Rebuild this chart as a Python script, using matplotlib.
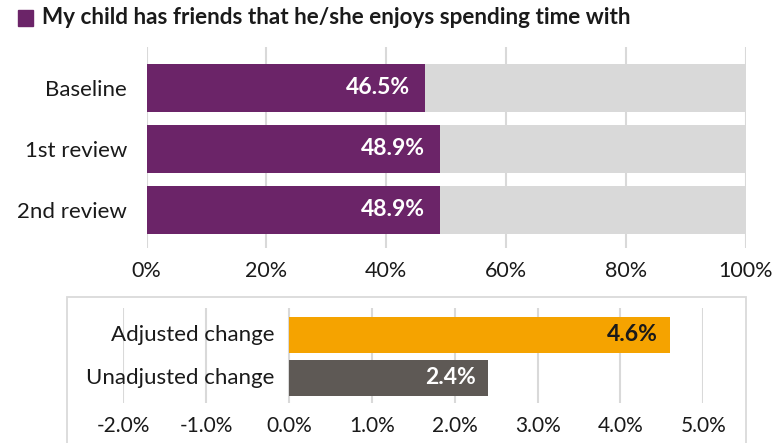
import matplotlib.pyplot as plt
from matplotlib.patches import Rectangle
from matplotlib.ticker import FuncFormatter

plt.rcParams.update({
    "font.family": ["Lato", "DejaVu Sans"],
    "font.size": 12,
})

# Data
title = "My child has friends that he/she enjoys spending time with"
stages = ["Baseline", "1st review", "2nd review"]
agree_pct = [46.5, 48.9, 48.9]
change_labels = ["Adjusted change", "Unadjusted change"]
change_pct = [4.6, 2.4]

PURPLE = "#6B2468"
LIGHT = "#D9D9D9"
ORANGE = "#F5A300"
DARKGREY = "#5E5955"
GRID = "#D9D9D9"
TEXT = "#1A1A1A"

fig = plt.figure(figsize=(7.84, 4.43), dpi=100)

# Title with square marker
fig.patches.append(Rectangle((18 / 784, 1 - 25.5 / 443), 15 / 784, 15.5 / 443,
                             transform=fig.transFigure, color=PURPLE))
fig.text(42 / 784, 1 - 18 / 443, title, fontsize=16.2, fontweight="bold",
         color=TEXT, va="center", ha="left")

# --- Top panel: share agreeing at each review ---
ax1 = fig.add_axes([146.5 / 784, 0.4395, 599.2 / 784, 0.455])
ypos = range(len(stages))
ax1.barh(ypos, [100] * len(stages), height=0.79, color=LIGHT, zorder=2)
ax1.barh(ypos, agree_pct, height=0.79, color=PURPLE, zorder=3)
for y, v in zip(ypos, agree_pct):
    ax1.annotate(f"{v:.1f}%", (v, y), xytext=(-15, 0), textcoords="offset pixels",
                 ha="right", va="center", color="white", fontweight="bold",
                 fontsize=16.5, zorder=4)
ax1.set_xlim(0, 100)
ax1.set_ylim(2.63, -0.67)
ax1.set_xticks(range(0, 101, 20))
ax1.xaxis.set_major_formatter(FuncFormatter(lambda x, _: f"{x:.0f}%"))
ax1.set_yticks(list(ypos))
ax1.set_yticklabels(stages)
ax1.tick_params(axis="both", length=0, colors=TEXT)
ax1.tick_params(axis="y", pad=14, labelsize=16)
ax1.tick_params(axis="x", pad=9.5, labelsize=15.5)
ax1.grid(axis="x", color=GRID, linewidth=1.5, zorder=1)
for s in ax1.spines.values():
    s.set_visible(False)

# --- Bottom panel: change since baseline ---
fig.patches.append(Rectangle((67 / 784, -0.05), (746 - 67) / 784, 1.05 - 296.7 / 443,
                             transform=fig.transFigure, fill=False,
                             edgecolor="#DADADA", linewidth=1.3))
ax2 = fig.add_axes([123.3 / 784, 0.0896, 580 / 784, 0.2144])
cpos = range(len(change_labels))
colors = [ORANGE, DARKGREY]
text_colors = [TEXT, "white"]
ax2.barh(cpos, change_pct, height=0.835, color=colors, zorder=3)
for y, v, tc, lab in zip(cpos, change_pct, text_colors, change_labels):
    ax2.annotate(f"{v:.1f}%", (v, y), xytext=(-12, 0), textcoords="offset pixels",
                 ha="right", va="center", color=tc, fontweight="bold",
                 fontsize=16.5, zorder=4)
    ax2.annotate(lab, (0, y), xytext=(-15, 0), textcoords="offset pixels",
                 ha="right", va="center", color=TEXT, fontsize=16, zorder=4)
ax2.set_xlim(-2, 5)
ax2.set_ylim(1.59, -0.61)
ax2.set_xticks(range(-2, 6))
ax2.xaxis.set_major_formatter(FuncFormatter(lambda x, _: f"{x:.1f}%"))
ax2.set_yticks([])
ax2.tick_params(axis="x", length=0, labelsize=15, colors=TEXT, pad=9)
ax2.grid(axis="x", color=GRID, linewidth=1.5, zorder=1)
for s in ax2.spines.values():
    s.set_visible(False)

fig.savefig("out.png", dpi=100)
